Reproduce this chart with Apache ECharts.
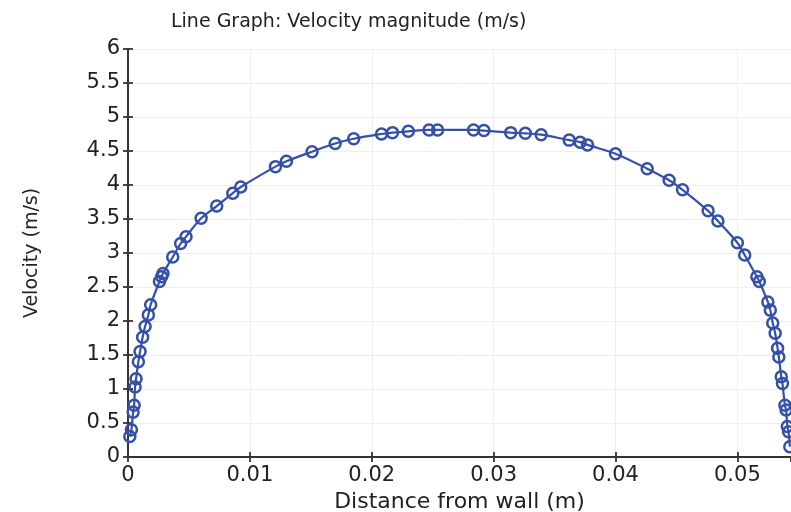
<!DOCTYPE html>
<html>
<head>
<meta charset="utf-8">
<script src="https://cdn.jsdelivr.net/npm/echarts@6/dist/echarts.min.js"></script>
<style>
html,body{margin:0;padding:0;background:#fff;}
#chart{width:791px;height:512px;}
</style>
</head>
<body>
<div id="chart"></div>
<script>
const titleText = "Line Graph: Velocity magnitude (m/s)";
const xName = "Distance from wall (m)";
const yName = "Velocity (m/s)";

const distance = [
  0.00015, 0.00028, 0.00042, 0.00050, 0.00058, 0.00066, 0.00085, 0.00099,
  0.00120, 0.00140, 0.00167, 0.00186, 0.00258, 0.00276, 0.00287, 0.00367,
  0.00432, 0.00476, 0.0060, 0.00728, 0.0086, 0.00925, 0.0121, 0.0130,
  0.0151, 0.0170, 0.01852, 0.0208, 0.0217, 0.0230, 0.0247, 0.0254,
  0.02835, 0.0292, 0.0314, 0.0326, 0.0339, 0.0362, 0.0371, 0.0377,
  0.0400, 0.0426, 0.0444, 0.0455, 0.0476, 0.0484, 0.0500, 0.0506,
  0.0516, 0.0518, 0.0525, 0.0527, 0.0529, 0.0531, 0.0533, 0.0534,
  0.0536, 0.0537, 0.0539, 0.0540, 0.0541, 0.0542, 0.0543
];
const velocity = [
  0.30, 0.40, 0.66, 0.76, 1.03, 1.15, 1.40, 1.55,
  1.76, 1.92, 2.09, 2.24, 2.58, 2.65, 2.70, 2.94,
  3.14, 3.24, 3.51, 3.69, 3.88, 3.97, 4.27, 4.35,
  4.49, 4.61, 4.68, 4.75, 4.77, 4.79, 4.81, 4.81,
  4.81, 4.80, 4.77, 4.76, 4.74, 4.66, 4.63, 4.59,
  4.46, 4.24, 4.07, 3.93, 3.62, 3.47, 3.15, 2.97,
  2.65, 2.58, 2.28, 2.16, 1.97, 1.82, 1.60, 1.47,
  1.18, 1.08, 0.76, 0.69, 0.45, 0.37, 0.15
];

const xMin = 0, xMax = 0.0544, xStep = 0.01;
const yMin = 0, yMax = 6, yStep = 0.5;

const FONT = "DejaVu Sans";
const lineCol = "#3450a8";
const axisCol = "#333";
const gridCol = "#eeeeee";

const pts = distance.map((d, i) => [d, velocity[i]]);

const chart = echarts.init(document.getElementById('chart'), null, {renderer: 'canvas'});
const tickIn = {show: true, inside: true, length: 5, lineStyle: {color: axisCol, width: 1.8}};
chart.setOption({
  animation: false,
  backgroundColor: '#fff',
  title: {
    text: titleText, left: 166, top: 8,
    textStyle: {fontFamily: FONT, fontSize: 19, fontWeight: 'normal', color: '#222'}
  },
  grid: {left: 128, right: 0, top: 49, bottom: 55, containLabel: false, outerBoundsMode: 'none'},
  xAxis: [{
    type: 'value', min: xMin, max: xMax, interval: xStep, position: 'bottom',
    name: xName, nameLocation: 'middle', nameGap: 29,
    nameTextStyle: {fontFamily: FONT, fontSize: 22, color: '#222'},
    axisLine: {show: true, lineStyle: {color: axisCol, width: 1.8}},
    axisTick: tickIn,
    axisLabel: {fontFamily: FONT, fontSize: 21, color: '#222', margin: 8, showMaxLabel: false,
      formatter: v => String(+v.toFixed(2))},
    splitLine: {show: true, lineStyle: {color: gridCol, width: 1}}
  }, {
    type: 'value', min: xMin, max: xMax, interval: xStep, position: 'top',
    axisLine: {show: true, lineStyle: {color: axisCol, width: 1.8}},
    axisTick: tickIn, axisLabel: {show: false}, splitLine: {show: false}
  }],
  yAxis: [{
    type: 'value', min: yMin, max: yMax, interval: yStep, position: 'left',
    name: yName, nameLocation: 'middle', nameGap: 86, nameRotate: 90,
    nameTextStyle: {fontFamily: FONT, fontSize: 19, color: '#222'},
    axisLine: {show: true, lineStyle: {color: axisCol, width: 1.8}},
    axisTick: tickIn,
    axisLabel: {fontFamily: FONT, fontSize: 21, color: '#222', margin: 8},
    splitLine: {show: true, lineStyle: {color: gridCol, width: 1}}
  }, {
    type: 'value', min: yMin, max: yMax, interval: yStep, position: 'right',
    axisLine: {show: true, lineStyle: {color: axisCol, width: 1.8}},
    axisTick: tickIn, axisLabel: {show: false}, splitLine: {show: false}
  }],
  series: [{
    type: 'line', xAxisIndex: 0, yAxisIndex: 0,
    data: pts, smooth: 0.3,
    symbol: 'circle', symbolSize: 11, showSymbol: true, showAllSymbol: true,
    itemStyle: {color: 'rgba(0,0,0,0)', borderColor: lineCol, borderWidth: 2.5},
    lineStyle: {color: lineCol, width: 2.2},
    clip: false
  }]
});
</script>
</body>
</html>
